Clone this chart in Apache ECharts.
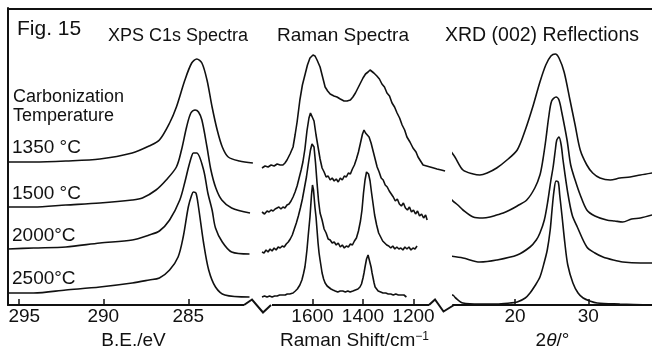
<!DOCTYPE html>
<html><head><meta charset="utf-8">
<script src="https://cdn.jsdelivr.net/npm/echarts@6/dist/echarts.min.js"></script>
<style>html,body{margin:0;padding:0;background:#fff}#c{width:652px;height:348px}</style>
</head><body><div id="c"></div>
<script>
// ---- tick labels ----
const xpsTicks = [295, 290, 285];
const ramanTicks = [1600, 1400, 1200];
const xrdTicks = [20, 30];
const tempLabels = ['1350 °C', '1500 °C', '2000°C', '2500°C'];

// ---- XPS C1s spectra: [binding energy eV, intensity a.u.] ----
const xps1350 = [[295.6,143],[294.1,143],[292.2,144],[290.2,146],[288.3,152],[287.3,159],[286.7,165],[286.1,182],[285.7,198],[285.2,225],[284.8,242],[284.5,246],[284.2,242],[283.9,225],[283.6,198],[283.3,175],[283.0,158],[282.65,148],[282.0,144],[281.2,142]];
const xps1500 = [[295.6,98],[294.1,98],[292.2,100],[290.2,102],[288.3,105],[287.7,107],[286.9,115],[286.3,125],[285.7,138],[285.4,155],[285.1,178],[284.85,192],[284.6,195],[284.4,193],[284.2,185],[283.9,158],[283.67,135],[283.38,117],[283.03,105],[282.45,97],[281.37,92]];
const xps2000 = [[295.6,56],[294.1,57],[292.2,58],[290.2,62],[288.3,65],[287.3,70],[286.7,74],[286.1,85],[285.5,105],[285.2,123],[285.0,137],[284.8,149],[284.7,152],[284.5,152],[284.1,135],[283.85,112],[283.6,95],[283.4,77],[283.0,63],[282.45,53],[281.4,51]];
const xps2500 = [[295.6,12],[294.1,12],[292.2,15],[290.2,18],[288.3,22],[287.3,25],[286.7,27],[286.1,35],[285.6,48],[285.3,68],[285.0,98],[284.8,110],[284.7,113],[284.55,112],[284.4,98],[284.1,62],[283.8,35],[283.4,18],[282.85,10],[281.4,8]];

// ---- Raman spectra: [Raman shift cm-1, intensity a.u.] ----
const raman1350 = [[1800,137],[1788,139],[1776,138],[1764,140],[1752,139],[1740,141],[1728,140],[1717,140],[1709,142],[1701,145],[1689,151],[1677,158],[1669,170],[1661,183],[1650,205],[1640,220],[1630,230],[1620,240],[1610,247],[1598,250],[1590,249],[1582,245],[1570,238],[1560,228],[1550,218],[1540,214],[1530,211],[1515,209],[1503,208],[1490,206],[1475,204],[1463,204],[1450,205],[1440,208],[1430,212],[1420,217],[1410,222],[1400,227],[1390,231],[1380,233],[1372,235],[1365,234],[1357,232],[1345,229],[1335,226],[1325,221],[1315,218],[1305,212],[1295,209],[1285,202],[1275,198],[1265,192],[1255,187],[1245,180],[1235,175],[1226,168],[1214,163],[1202,157],[1190,153],[1182,148],[1172,144],[1162,140],[1148,139],[1134,138],[1120,137],[1107,136],[1090,135],[1075,134]];
const raman1500 = [[1800,93],[1790,91],[1780,94],[1772,93],[1764,95],[1756,94],[1748,96],[1741,95],[1733,98],[1725,96],[1717,98],[1709,97],[1701,100],[1693,101],[1685,104],[1677,108],[1669,113],[1661,119],[1653,127],[1645,135],[1638,143],[1630,156],[1622,174],[1614,187],[1608,192],[1602,190],[1594,184],[1586,170],[1578,158],[1570,146],[1562,137],[1554,133],[1546,128],[1538,129],[1530,125],[1522,127],[1514,124],[1506,126],[1498,123],[1490,127],[1482,125],[1474,129],[1466,128],[1458,132],[1450,131],[1442,136],[1434,140],[1426,146],[1418,153],[1410,162],[1402,171],[1396,175],[1390,172],[1384,173],[1376,168],[1368,162],[1360,154],[1352,146],[1344,138],[1336,133],[1328,127],[1320,125],[1312,120],[1304,118],[1296,114],[1288,111],[1280,108],[1272,104],[1264,106],[1256,101],[1248,99],[1240,102],[1232,97],[1224,95],[1216,98],[1208,93],[1200,95],[1192,91],[1184,94],[1176,89],[1168,91],[1160,87],[1152,90],[1146,85]];
const raman2000 = [[1800,53],[1792,52],[1784,55],[1776,53],[1768,56],[1760,54],[1752,57],[1744,55],[1736,58],[1728,57],[1720,59],[1712,58],[1704,61],[1696,63],[1688,66],[1680,70],[1672,76],[1664,82],[1656,89],[1648,97],[1640,106],[1632,117],[1624,128],[1616,142],[1608,155],[1602,161],[1598,162],[1594,158],[1588,142],[1582,122],[1576,104],[1570,92],[1562,85],[1554,76],[1546,72],[1538,66],[1530,65],[1522,62],[1514,63],[1506,60],[1498,62],[1490,58],[1482,60],[1474,57],[1466,59],[1458,58],[1450,61],[1442,60],[1434,64],[1426,67],[1418,74],[1410,84],[1404,95],[1398,112],[1392,125],[1386,133],[1382,135],[1378,131],[1372,124],[1366,112],[1360,101],[1354,90],[1346,80],[1338,72],[1330,68],[1322,64],[1314,62],[1306,60],[1298,59],[1290,57],[1282,59],[1274,56],[1266,58],[1258,56],[1250,57],[1242,55],[1234,58],[1226,56],[1218,58],[1210,55],[1202,57],[1194,56],[1186,59]];
const raman2500 = [[1800,8],[1790,9],[1780,8],[1770,9],[1760,8],[1750,9],[1740,9],[1730,10],[1717,10],[1708,10],[1700,11],[1690,11],[1677,12],[1668,14],[1660,16],[1650,20],[1642,25],[1636,31],[1630,38],[1626,46],[1622,55],[1616,72],[1610,88],[1604,110],[1600,120],[1596,115],[1590,97],[1586,88],[1582,75],[1578,62],[1574,52],[1570,45],[1562,32],[1556,26],[1550,22],[1542,19],[1535,17],[1527,16],[1519,15],[1510,14],[1500,13],[1490,14],[1480,14],[1470,13],[1460,14],[1451,13],[1440,14],[1430,15],[1420,16],[1412,18],[1406,21],[1400,27],[1396,32],[1392,38],[1386,46],[1380,50],[1376,48],[1372,42],[1368,38],[1364,32],[1360,27],[1356,22],[1352,18],[1346,16],[1340,14],[1330,13],[1321,12],[1310,12],[1300,11],[1290,11],[1280,10],[1270,11],[1260,10],[1250,10],[1238,10],[1228,8]];

// ---- XRD (002) reflections: [2theta deg, intensity a.u.] ----
const xrd1350 = [[11.1,155],[11.8,148],[12.9,135],[14.3,131],[15.2,130],[16.2,132],[17.5,137],[18.9,145],[20.3,155],[21.4,175],[22.5,200],[23.4,223],[24.2,240],[24.9,249],[25.5,251],[26.0,247],[26.7,233],[27.5,205],[28.2,180],[28.9,155],[29.8,140],[30.6,132],[31.6,127],[33.0,125],[34.3,127],[35.7,128],[37.1,130],[38.7,132]];
const xrd1500 = [[11.1,109],[11.4,105],[12.2,100],[12.9,95],[14.3,88],[15.6,87],[16.6,88],[17.5,90],[18.4,92],[19.3,95],[20.3,99],[21.6,105],[22.7,117],[23.4,130],[23.8,145],[24.2,165],[24.6,188],[25.0,204],[25.6,208],[26.0,205],[26.4,192],[27.1,165],[27.6,140],[28.2,125],[28.9,110],[29.8,95],[30.9,89],[32.5,85],[33.6,84],[34.7,83],[35.9,86],[37.1,87],[38.7,90]];
const xrd2000 = [[11.1,49],[12.9,47],[15.2,43],[17.5,45],[20.3,50],[22.05,58],[22.9,65],[23.4,72],[24.0,85],[24.5,105],[24.9,125],[25.2,138],[25.5,155],[25.7,165],[26.0,168],[26.3,160],[26.55,145],[27.2,112],[27.8,90],[28.5,78],[29.8,58],[30.9,52],[32.0,48],[33.4,45],[34.7,43],[37.1,42],[38.7,42]];
const xrd2500 = [[11.1,8],[11.5,10],[11.9,7],[12.9,2],[15.2,1],[17.5,1],[19.3,2],[20.3,3],[21.4,7],[22.05,12],[22.7,19],[23.4,28],[24.0,43],[24.4,55],[24.8,75],[25.05,95],[25.3,113],[25.6,124],[25.9,123],[26.1,110],[26.4,90],[26.8,62],[27.2,40],[27.9,22],[28.6,12],[29.3,7],[30.2,4],[31.2,2],[34.3,1],[38.7,0]];

const INK = '#111';
const FONT = 'Liberation Sans';

function curve(data, gi, smooth) {
  return {
    type: 'line', data: data, xAxisIndex: gi, yAxisIndex: gi,
    showSymbol: false, smooth: smooth, silent: true,
    lineStyle: { color: INK, width: 1.6 }
  };
}
function xAxisBase(gi, min, max, inverse, ticks, name) {
  return {
    type: 'value', gridIndex: gi, min: min, max: max, inverse: inverse,
    position: 'bottom',
    axisLine: { show: true, onZero: false, lineStyle: { color: INK, width: 2 } },
    axisTick: { show: true, inside: true, length: 6, customValues: ticks, lineStyle: { color: INK, width: 1.5 } },
    axisLabel: { show: true, customValues: ticks, margin: 2, color: INK, fontFamily: FONT, fontSize: 19,
      formatter: function (v) { return String(v); } },
    splitLine: { show: false },
    name: name, nameLocation: 'middle', nameGap: 21,
    nameTextStyle: { color: INK, fontFamily: FONT, fontSize: 19 }
  };
}
function yAxisBase(gi, showLine) {
  return {
    type: 'value', gridIndex: gi, min: 0, max: 297,
    axisLine: { show: showLine, lineStyle: { color: INK, width: 2 } },
    axisTick: { show: false }, axisLabel: { show: false }, splitLine: { show: false }
  };
}

const chart = echarts.init(document.getElementById('c'), null, { renderer: 'canvas' });

const xA0 = xAxisBase(0, 281.194, 295.606, true, xpsTicks, 'B.E./eV');
xA0.axisLabel.formatter = function (v) { return v === 295 ? '{p|295}' : String(v); };
xA0.axisLabel.rich = { p: { padding: [0, 0, 0, 12], fontFamily: FONT, fontSize: 19, color: INK } };
xA0.nameTextStyle.padding = [0, 0, 0, 6];

const xA1 = xAxisBase(1, 1067.3, 1800, true, ramanTicks, '{a|Raman Shift/cm}{s|−1}');
xA1.nameTextStyle.rich = {
  a: { fontFamily: FONT, fontSize: 19, color: INK },
  s: { fontFamily: FONT, fontSize: 12, color: INK, verticalAlign: 'top', padding: [0, 0, 8, 0] }
};

const xA2 = xAxisBase(2, 11.54, 38.69, false, xrdTicks, '2{i|θ}/°');
xA2.nameTextStyle.rich = { i: { fontFamily: FONT, fontSize: 19, fontStyle: 'italic', color: INK } };

function txt(x, y, s, align, size) {
  return { type: 'text', x: x, y: y, silent: true, z: 50,
    style: { text: s, fill: INK, font: (size || 19) + 'px "' + FONT + '"', textAlign: align || 'left', textVerticalAlign: 'middle' } };
}

const gridBase = { top: 8, height: 297, containLabel: false, outerBoundsMode: 'none' };
const option = {
  animation: false,
  backgroundColor: '#fff',
  grid: [
    Object.assign({ left: 8, width: 245 }, gridBase),
    Object.assign({ left: 262, width: 185 }, gridBase),
    Object.assign({ left: 453, width: 199 }, gridBase)
  ],
  xAxis: [xA0, xA1, xA2],
  yAxis: [yAxisBase(0, true), yAxisBase(1, false), yAxisBase(2, false)],
  series: [
    curve(xps1350, 0, 0.3), curve(xps1500, 0, 0.3), curve(xps2000, 0, 0.3), curve(xps2500, 0, 0.3),
    curve(raman1350, 1, false), curve(raman1500, 1, false), curve(raman2000, 1, false), curve(raman2500, 1, false),
    curve(xrd1350, 2, 0.3), curve(xrd1500, 2, 0.3), curve(xrd2000, 2, 0.3), curve(xrd2500, 2, 0.3)
  ],
  graphic: [
    { type: 'line', silent: true, z: 50, shape: { x1: 7, y1: 9, x2: 652, y2: 9 }, style: { stroke: INK, lineWidth: 2 } },
    // white masks hiding the straight axis line where the scale breaks
    { type: 'rect', silent: true, z: 60, shape: { x: 244, y: 302, width: 28, height: 7 }, style: { fill: '#fff' } },
    { type: 'rect', silent: true, z: 60, shape: { x: 429, y: 302, width: 22, height: 7 }, style: { fill: '#fff' } },
    { type: 'polyline', silent: true, z: 70, shape: { points: [[244,305],[252,299.5],[263,312.5],[271,305]] }, style: { stroke: INK, lineWidth: 2, fill: null } },
    { type: 'polyline', silent: true, z: 70, shape: { points: [[429,305],[435,299.5],[443.5,311.5],[454,305]] }, style: { stroke: INK, lineWidth: 2, fill: null } },
    txt(17, 29, 'Fig. 15', 'left', 21),
    txt(178, 36, 'XPS C1s Spectra', 'center', 18),
    txt(343, 36, 'Raman Spectra', 'center', 19),
    txt(542, 36, 'XRD (002) Reflections', 'center', 19.5),
    txt(13, 97, 'Carbonization', 'left', 18),
    txt(13, 116.5, 'Temperature', 'left', 18),
    txt(12, 148, tempLabels[0], 'left', 19),
    txt(12, 194, tempLabels[1], 'left', 19),
    txt(12, 236, tempLabels[2], 'left', 19),
    txt(12, 278.5, tempLabels[3], 'left', 19)
  ]
};
chart.setOption(option);
</script>
</body></html>
